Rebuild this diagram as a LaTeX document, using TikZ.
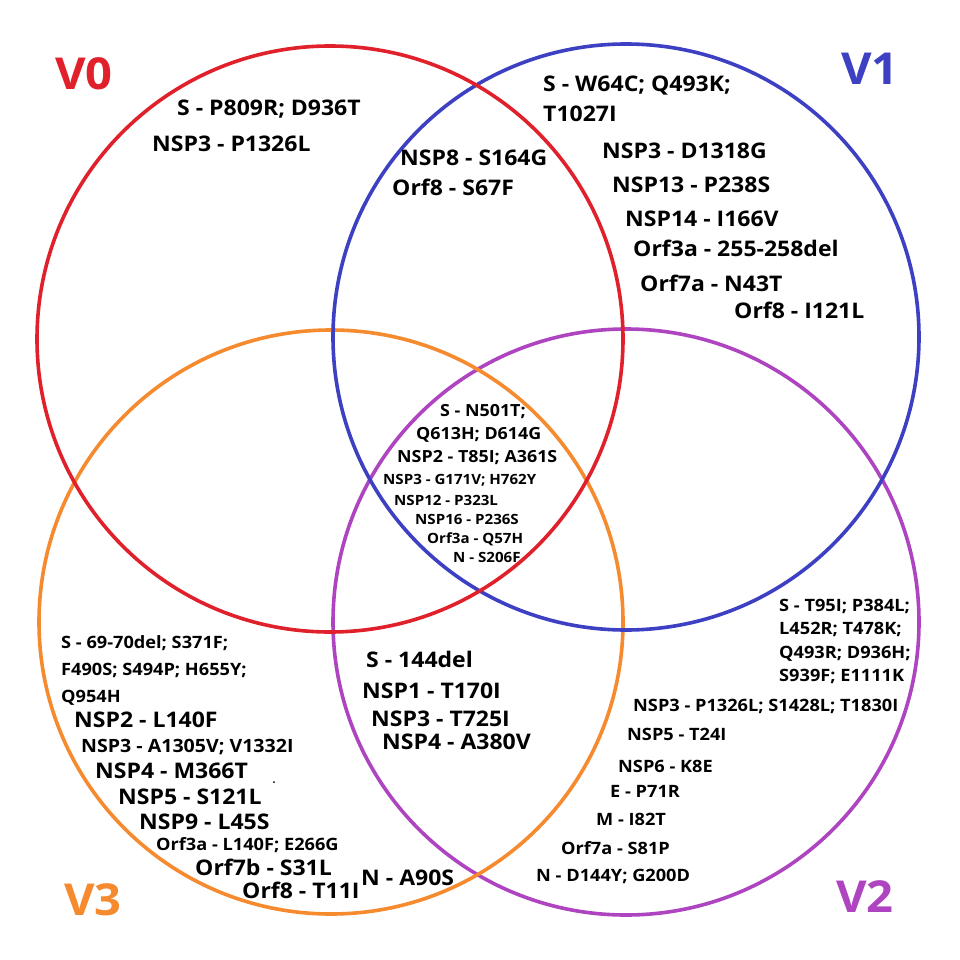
\documentclass[tikz,border=0pt]{standalone}
\usepackage{fontspec}
\setmainfont{Open Sans}[FakeStretch=1.07]
\definecolor{vred}{HTML}{E0202A}
\definecolor{vblue}{HTML}{3D40C2}
\definecolor{vorange}{HTML}{F58A2E}
\definecolor{vpurple}{HTML}{AE44C0}
\begin{document}
\begin{tikzpicture}[x=1pt,y=-1pt,
  ring/.style={line width=3.6pt},
  lab/.style={anchor=base west, inner sep=0pt, text=black},
  tA/.style={lab, font=\fontsize{21.5}{24}\selectfont\bfseries},
  tB/.style={lab, font=\fontsize{18.3}{21}\selectfont\bfseries},
  tC/.style={lab, font=\fontsize{17}{19}\selectfont\bfseries},
  tD/.style={lab, font=\fontsize{16.7}{19}\selectfont\bfseries},
  tE/.style={lab, font=\fontsize{14.1}{16}\selectfont\bfseries},
  big/.style={anchor=base west, inner sep=0pt, font=\fontsize{44}{50}\selectfont\bfseries}]
\useasboundingbox (0,0) rectangle (960,960);
\fill[white] (0,0) rectangle (960,960);
% circles
\draw[ring, vpurple] (626,622) circle[radius=293pt];
\draw[ring, vorange] (331,622) circle[radius=292pt];
\draw[ring, vblue] (626,337) circle[radius=293pt];
\draw[ring, vred] (330,339) circle[radius=293pt];
% set labels
\node[big, text=vred] (lv0) at (55,90) {V0};
\node[big, text=vblue] (lv1) at (841,85) {V1};
\node[big, text=vorange] (lv3) at (64,915) {V3};
\node[big, text=vpurple] (lv2) at (836,912) {V2};
% V0 only
\node[tA] (a1) at (177,116) {S - P809R; D936T};
\node[tA] (a2) at (152,152) {NSP3 - P1326L};
% V0 & V1
\node[tA] (b1) at (400,165) {NSP8 - S164G};
\node[tA] (b2) at (392,195) {Orf8 - S67F};
% V1 only
\node[tA] (c1) at (543,92) {S - W64C; Q493K;};
\node[tA] (c2) at (543,122) {T1027I};
\node[tA] (c3) at (602,159) {NSP3 - D1318G};
\node[tA] (c4) at (612,193) {NSP13 - P238S};
\node[tA] (c5) at (625,226) {NSP14 - I166V};
\node[tA] (c6) at (633,256) {Orf3a - 255-258del};
\node[tA] (c7) at (640,291) {Orf7a - N43T};
\node[tA] (c8) at (734,318) {Orf8 - I121L};
% all four
\node[tD] (d1) at (440,416) {S - N501T;};
\node[tD] (d2) at (416,439) {Q613H; D614G};
\node[tD] (d3) at (397,462) {NSP2 - T85I; A361S};
\node[tE] (d4) at (383,484) {NSP3 - G171V; H762Y};
\node[tE] (d5) at (394,505) {NSP12 - P323L};
\node[tE] (d6) at (415,524) {NSP16 - P236S};
\node[tE] (d7) at (427,543) {Orf3a - Q57H};
\node[tE] (d8) at (453,562) {N - S206F};
% V3 only
\node[tC] (e1) at (61,648) {S - 69-70del; S371F;};
\node[tC] (e2) at (61,675) {F490S; S494P; H655Y;};
\node[tC] (e3) at (61,702) {Q954H};
\node[tA] (e4) at (74,727) {NSP2 - L140F};
\node[tB] (e5) at (81,752) {NSP3 - A1305V; V1332I};
\node[tA] (e6) at (95,778) {NSP4 - M366T};
\node[tA] (e7) at (118,804) {NSP5 - S121L};
\node[tA] (e8) at (139,829) {NSP9 - L45S};
\node[tC] (e9) at (156,850) {Orf3a - L140F; E266G};
\node[tA] (e10) at (195,875) {Orf7b - S31L};
\node[tA] (e11) at (242,898) {Orf8 - T11I};
\fill[black] (274,782) circle[radius=1pt];
% V2 & V3
\node[tA] (f1) at (366,667) {S - 144del};
\node[tA] (f2) at (362,698) {NSP1 - T170I};
\node[tA] (f3) at (371,726) {NSP3 - T725I};
\node[tA] (f4) at (382,749) {NSP4 - A380V};
\node[tA] (f5) at (361,885) {N - A90S};
% V2 only
\node[tC] (g1) at (779,611) {S - T95I; P384L;};
\node[tC] (g2) at (779,634) {L452R; T478K;};
\node[tC] (g3) at (779,658) {Q493R; D936H;};
\node[tC] (g4) at (779,681) {S939F; E1111K};
\node[tC] (g5) at (633,711) {NSP3 - P1326L; S1428L; T1830I};
\node[tC] (g6) at (627,740) {NSP5 - T24I};
\node[tC] (g7) at (618,772) {NSP6 - K8E};
\node[tC] (g8) at (610,797) {E - P71R};
\node[tC] (g9) at (596,825) {M - I82T};
\node[tC] (g10) at (561,854) {Orf7a - S81P};
\node[tC] (g11) at (536,881) {N - D144Y; G200D};
\end{tikzpicture}
\end{document}
